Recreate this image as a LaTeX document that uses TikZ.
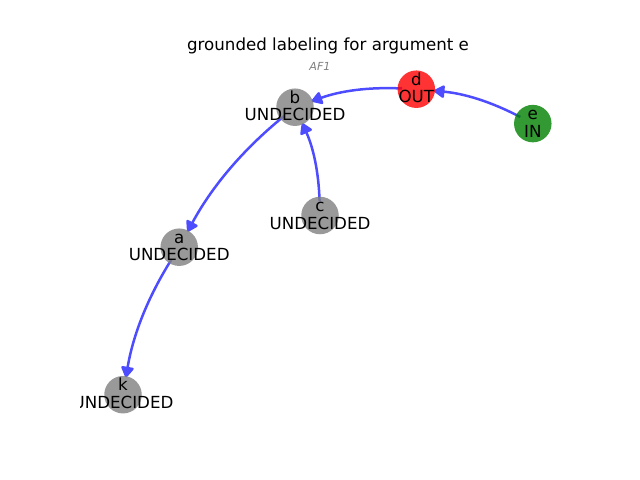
\documentclass[tikz,border=0pt]{standalone}
\usepackage{fontspec}
\setmainfont{DejaVu Sans}
\usetikzlibrary{arrows.meta,backgrounds}
\definecolor{edgeblue}{RGB}{77,77,255}
\definecolor{nodegray}{RGB}{128,128,128}
\definecolor{nodered}{RGB}{255,0,0}
\definecolor{nodegreen}{RGB}{0,128,0}
\definecolor{subgray}{RGB}{128,128,128}

% vertex: name, x, y (pixels, downwards), argument, state, colour
\newcommand\argvertex[6]{%
  \node[vertex, fill=#6] (#1) at (#2,-#3) {};
  \node[lbl] (#1-name) at ({#2},{3.9-#3}) {#4};
  \node[lbl] (#1-state) at ({#2},{-13.5-#3}) {#5};
}

\begin{document}
\begin{tikzpicture}[x=0.72pt,y=0.72pt,
  vertex/.style={circle, inner sep=0pt, minimum size=27pt, draw=none, fill opacity=0.8},
  lbl/.style={anchor=base, inner sep=0pt, font=\fontsize{12}{14}\selectfont},
  link/.style={draw=edgeblue, line width=1.8pt, line join=round,
    -{Triangle[length=8.5pt,width=10pt,round]}, shorten <=-3.5pt, shorten >=-1pt,
    bend right=11.3, looseness=0.87}
]
\useasboundingbox (0,0) rectangle (640,-480);

\node[anchor=base, inner sep=0pt, font=\fontsize{12}{14}\selectfont] (title) at (328,-50)
  {grounded labeling for argument e};
\node[anchor=base, inner sep=0pt, text=subgray, font=\fontsize{8}{9}\selectfont\itshape] (subtitle) at (320,-70) {AF1};

\begin{scope}
  \clip (80,-57.6) rectangle (576,-427.2);
  \argvertex{b}{295}{107.2}{b}{UNDECIDED}{nodegray}
  \argvertex{d}{416.3}{89.2}{d}{OUT}{nodered}
  \argvertex{e}{532.8}{123.6}{e}{IN}{nodegreen}
  \argvertex{c}{320}{215.5}{c}{UNDECIDED}{nodegray}
  \argvertex{a}{179.2}{247.2}{a}{UNDECIDED}{nodegray}
  \argvertex{k}{123}{394.7}{k}{UNDECIDED}{nodegray}
\end{scope}

\begin{pgfonlayer}{background}
  \draw[link] (e) to (d);
  \draw[link] (d) to (b);
  \draw[link] (c) to (b);
  \draw[link] (b) to (a);
  \draw[link] (a) to (k);
\end{pgfonlayer}
\end{tikzpicture}
\end{document}
